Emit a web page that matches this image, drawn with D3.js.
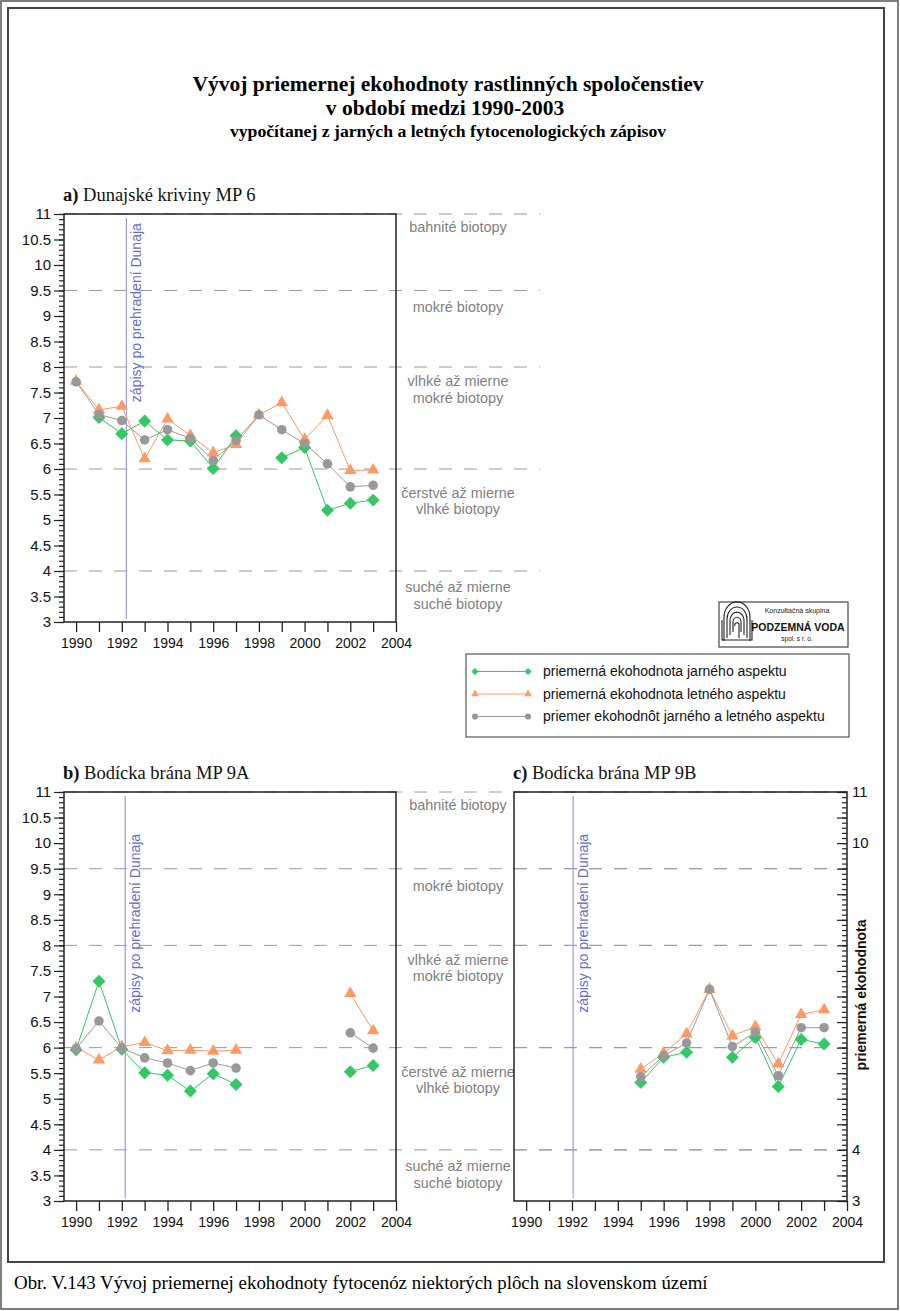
<!DOCTYPE html>
<html><head><meta charset="utf-8">
<script src="https://cdn.jsdelivr.net/npm/d3@7"></script>
<style>body{margin:0;background:#fff}svg{display:block}</style>
</head><body>
<svg id="chart" width="900" height="1311"></svg>
<script>
// ---------------- data ----------------
const years = d3.range(1990, 2004);
const xTickYears = d3.range(1990, 2005);
const titleLines = ["Vývoj priemernej ekohodnoty rastlinných spoločenstiev", "v období medzi 1990-2003"];
const subtitle = "vypočítanej z jarných a letných fytocenologických zápisov";
const caption = "Obr. V.143 Vývoj priemernej ekohodnoty fytocenóz niektorých plôch na slovenskom území";
const seriesNames = ["priemerná ekohodnota jarného aspektu", "priemerná ekohodnota letného aspektu", "priemer ekohodnôt jarného a letného aspektu"];
const zoneBounds = [4, 6, 8, 9.5, 11];
const zoneNames = [["bahnité biotopy"], ["mokré biotopy"], ["vlhké až mierne", "mokré biotopy"], ["čerstvé až mierne", "vlhké biotopy"], ["suché až mierne", "suché biotopy"]];
const zoneLabelAt = [10.75, 9.17, 7.56, 5.37, 3.52];
const damNote = "zápisy po prehradení Dunaja";
const damYear = [1992.2, 1992.15, 1992.05];
const damNoteAt = [7.31, 6.68, 6.68];
const panelTitles = [["a)", " Dunajské kriviny MP 6"], ["b)", " Bodícka brána MP 9A"], ["c)", " Bodícka brána MP 9B"]];
const yAxisTitle = "priemerná ekohodnota";

// panel a) Dunajské kriviny MP 6
const aSpring = [null, 7.01, 6.69, 6.94, 6.57, 6.55, 6.01, 6.65, null, 6.22, 6.42, 5.19, 5.33, 5.39];
const aSummer = [7.72, 7.16, 7.23, 6.20, 6.98, 6.66, 6.32, 6.48, 7.06, 7.30, 6.58, 7.05, 5.97, 5.98];
const aMean   = [7.71, 7.07, 6.95, 6.57, 6.77, 6.60, 6.17, 6.56, 7.06, 6.77, 6.50, 6.10, 5.65, 5.68];
// panel b) Bodícka brána MP 9A
const bSpring = [5.96, 7.30, 5.97, 5.51, 5.46, 5.15, 5.49, 5.28, null, null, null, null, 5.53, 5.65];
const bSummer = [6.00, 5.76, 6.02, 6.10, 5.94, 5.95, 5.93, 5.95, null, null, null, null, 7.06, 6.33];
const bMean   = [5.98, 6.52, 5.99, 5.80, 5.70, 5.55, 5.70, 5.60, null, null, null, null, 6.29, 5.99];
// panel c) Bodícka brána MP 9B
const cSpring = [null, null, null, null, null, 5.32, 5.81, 5.91, null, 5.81, 6.20, 5.24, 6.16, 6.07];
const cSummer = [null, null, null, null, null, 5.58, 5.89, 6.27, 7.14, 6.23, 6.41, 5.68, 6.65, 6.74];
const cMean   = [null, null, null, null, null, 5.43, 5.84, 6.09, 7.14, 6.02, 6.30, 5.45, 6.39, 6.39];

// ---------------- styles ----------------
const COL = {spring: "#33c766", summer: "#ff9a66", mean: "#999999", dam: "#9a9ae0", damText: "#6a6ad0", zone: "#808080", dash: "#9a9a9a", axis: "#222"};
const SANS = "'Liberation Sans', Arial, sans-serif";
const SERIF = "'Liberation Serif', 'Times New Roman', serif";

const svg = d3.select("#chart");

// frames
svg.append("rect").attr("x", 1).attr("y", 1).attr("width", 897).attr("height", 1308)
  .attr("fill", "none").attr("stroke", "#555").attr("stroke-width", 1.5);
svg.append("rect").attr("x", 8).attr("y", 8).attr("width", 876).attr("height", 1254)
  .attr("fill", "none").attr("stroke", "#444").attr("stroke-width", 2);

// titles
svg.append("text").attr("x", 448).attr("y", 91).attr("text-anchor", "middle")
  .style("font-family", SERIF).style("font-weight", "bold").style("font-size", "21.5px").text(titleLines[0]);
svg.append("text").attr("x", 445).attr("y", 115).attr("text-anchor", "middle")
  .style("font-family", SERIF).style("font-weight", "bold").style("font-size", "21.5px").text(titleLines[1]);
svg.append("text").attr("x", 448).attr("y", 137).attr("text-anchor", "middle")
  .style("font-family", SERIF).style("font-weight", "bold").style("font-size", "17.7px").text(subtitle);

svg.append("text").attr("x", 14).attr("y", 1289)
  .style("font-family", SERIF).style("font-size", "18.9px").text(caption);

function markerPath(kind, big) {
  if (kind === "spring") return d3.symbol().type(d3.symbolSquare).size(big ? 84 : 26)();
  if (kind === "summer") return d3.symbol().type(d3.symbolTriangle).size(big ? 66 : 26)();
  return d3.symbol().type(d3.symbolCircle).size(big ? 72 : 30)();
}

function drawPanel(cfg) {
  const x = d3.scaleLinear().domain([1989.47, 2004]).range([cfg.left, cfg.right]);
  const y = d3.scaleLinear().domain([3, 11]).range([cfg.bottom, cfg.top]);
  const g = svg.append("g");

  // dashed zone boundaries
  zoneBounds.forEach(v => {
    g.append("line").attr("x1", cfg.left).attr("x2", cfg.dashEnd).attr("y1", y(v)).attr("y2", y(v))
      .attr("stroke", COL.dash).attr("stroke-width", 1).attr("stroke-dasharray", "13,12");
  });

  // zone labels
  if (cfg.zoneLabels) {
    zoneNames.forEach((lines, i) => {
      const cy = y(zoneLabelAt[i]);
      lines.forEach((t, j) => {
        g.append("text").attr("x", 458).attr("y", cy + (j - (lines.length - 1) / 2) * 16.5)
          .attr("dy", "0.35em").attr("text-anchor", "middle")
          .style("font-family", SANS).style("font-size", "14.4px").attr("fill", COL.zone).text(t);
      });
    });
  }

  // frame
  g.append("rect").attr("x", cfg.left).attr("y", cfg.top).attr("width", cfg.right - cfg.left)
    .attr("height", cfg.bottom - cfg.top).attr("fill", "none").attr("stroke", COL.axis).attr("stroke-width", 1.5);

  // dam line + note
  const dx = x(cfg.dam);
  g.append("line").attr("x1", dx).attr("x2", dx).attr("y1", cfg.top + 4).attr("y2", cfg.bottom - 3)
    .attr("stroke", COL.dam).attr("stroke-width", 1.2);
  g.append("text").attr("transform", `translate(${dx + 15},${y(cfg.noteAt)}) rotate(-90)`)
    .style("font-family", SANS).style("font-size", "14px").attr("fill", COL.damText).text(damNote);

  // x axis
  const xa = g.append("g").attr("transform", `translate(0,${cfg.bottom})`)
    .call(d3.axisBottom(x).tickValues(xTickYears).tickSize(10).tickSizeOuter(0).tickPadding(6)
      .tickFormat(d => d % 2 === 0 ? d : ""));
  xa.select(".domain").remove();
  xa.selectAll("line").attr("stroke", COL.axis).attr("stroke-width", 1.3);
  xa.selectAll("text").style("font-family", SANS).style("font-size", "14px").attr("fill", "#111");

  // y axis
  const minor = d3.range(30, 111).map(d => d / 10);
  const major = d3.range(6, 23).map(d => d / 2);
  if (cfg.side === "left") {
    const ym = g.append("g").attr("transform", `translate(${cfg.left},0)`)
      .call(d3.axisLeft(y).tickValues(minor).tickSize(5).tickSizeOuter(0).tickFormat(""));
    ym.select(".domain").remove();
    const yM = g.append("g").attr("transform", `translate(${cfg.left},0)`)
      .call(d3.axisLeft(y).tickValues(major).tickSize(10).tickSizeOuter(0).tickPadding(3).tickFormat(d3.format("")));
    yM.select(".domain").remove();
    [ym, yM].forEach(s => s.selectAll("line").attr("stroke", COL.axis).attr("stroke-width", 1.2));
    yM.selectAll("text").style("font-family", SANS).style("font-size", "15px").attr("fill", "#111");
  } else {
    const ym = g.append("g").attr("transform", `translate(${cfg.right},0)`)
      .call(d3.axisRight(y).tickValues(minor).tickSize(-5).tickSizeOuter(0).tickFormat(""));
    ym.select(".domain").remove();
    const yM = g.append("g").attr("transform", `translate(${cfg.right},0)`)
      .call(d3.axisRight(y).tickValues(major).tickSize(-10).tickSizeOuter(0).tickFormat(""));
    yM.select(".domain").remove();
    const yL = g.append("g").attr("transform", `translate(${cfg.right},0)`)
      .call(d3.axisRight(y).tickValues([3, 4, 10, 11]).tickSize(0).tickPadding(5).tickFormat(d3.format("")));
    yL.select(".domain").remove();
    [ym, yM].forEach(s => s.selectAll("line").attr("stroke", COL.axis).attr("stroke-width", 1.2));
    yL.selectAll("text").style("font-family", SANS).style("font-size", "15px").attr("fill", "#111");
    g.append("text").attr("transform", `translate(${cfg.right + 19},${y(7.03)}) rotate(-90)`)
      .attr("text-anchor", "middle").style("font-family", SANS).style("font-weight", "bold")
      .style("font-size", "14px").attr("fill", "#111").text(yAxisTitle);
  }

  // panel title
  const t = g.append("text").attr("x", cfg.left - 1).attr("y", cfg.top - 13)
    .style("font-family", SERIF).style("font-size", "18.5px").attr("fill", "#111");
  t.append("tspan").style("font-weight", "bold").text(cfg.title[0]);
  t.append("tspan").text(cfg.title[1]);

  // series
  const series = [["summer", cfg.summer], ["spring", cfg.spring], ["mean", cfg.mean]];
  const line = d3.line().defined(d => d[1] != null).x(d => x(d[0])).y(d => y(d[1]));
  series.forEach(([k, vals]) => {
    const pts = years.map((yr, i) => [yr, vals[i]]);
    g.append("path").attr("d", line(pts)).attr("fill", "none").attr("stroke", COL[k]).attr("stroke-width", 1);
  });
  series.forEach(([k, vals]) => {
    const pts = years.map((yr, i) => [yr, vals[i]]).filter(d => d[1] != null);
    g.selectAll(null).data(pts).enter().append("path")
      .attr("d", markerPath(k, true))
      .attr("transform", d => `translate(${x(d[0])},${y(d[1])})` + (k === "spring" ? " rotate(45)" : ""))
      .attr("fill", COL[k]);
  });
}

drawPanel({left: 64, right: 396, top: 214, bottom: 622, dashEnd: 540, zoneLabels: true, side: "left",
  dam: damYear[0], noteAt: damNoteAt[0], title: panelTitles[0], spring: aSpring, summer: aSummer, mean: aMean});
drawPanel({left: 64, right: 396, top: 792, bottom: 1201, dashEnd: 847, zoneLabels: true, side: "left",
  dam: damYear[1], noteAt: damNoteAt[1], title: panelTitles[1], spring: bSpring, summer: bSummer, mean: bMean});
drawPanel({left: 514, right: 847, top: 792, bottom: 1201, dashEnd: 847, zoneLabels: false, side: "right",
  dam: damYear[2], noteAt: damNoteAt[2], title: panelTitles[2], spring: cSpring, summer: cSummer, mean: cMean});

// ---------------- legend ----------------
const lg = svg.append("g");
lg.append("rect").attr("x", 466).attr("y", 654).attr("width", 383).attr("height", 83)
  .attr("fill", "#fff").attr("stroke", "#555").attr("stroke-width", 1.2);
["spring", "summer", "mean"].forEach((k, i) => {
  const yy = 671.5 + i * 22.5;
  lg.append("line").attr("x1", 475).attr("x2", 528).attr("y1", yy).attr("y2", yy).attr("stroke", COL[k]).attr("stroke-width", 1);
  [475, 528].forEach(xx => lg.append("path").attr("d", markerPath(k, false))
    .attr("transform", `translate(${xx},${yy})` + (k === "spring" ? " rotate(45)" : "")).attr("fill", COL[k]));
  lg.append("text").attr("x", 543).attr("y", yy).attr("dy", "0.35em")
    .style("font-family", SANS).style("font-size", "14px").attr("fill", "#111").text(seriesNames[i]);
});

// ---------------- logo ----------------
const logo = svg.append("g");
logo.append("rect").attr("x", 719).attr("y", 602).attr("width", 129).attr("height", 45)
  .attr("fill", "#fff").attr("stroke", "#444").attr("stroke-width", 1.2);
const ic = logo.append("g").attr("transform", "translate(737,624)").attr("fill", "none").attr("stroke", "#222").attr("stroke-width", 1.1);
[4, 7, 10, 13].forEach(r => {
  ic.append("path").attr("d", `M${-r},${r + 4} L${-r},${-r / 2} A${r},${r * 1.2} 0 0 1 ${r},${-r / 2} L${r},${r + 4}`);
});
ic.append("path").attr("d", "M-2,2 A2,2 0 1 1 2,0 L2,14");
ic.append("path").attr("d", "M-15,-4 L-15,16 L15,16 L15,-4");
logo.append("text").attr("x", 797).attr("y", 613).attr("text-anchor", "middle")
  .style("font-family", SANS).style("font-size", "7px").attr("fill", "#222").text("Konzultačná skupina");
logo.append("text").attr("x", 798).attr("y", 631).attr("text-anchor", "middle")
  .style("font-family", SANS).style("font-weight", "bold").style("font-size", "10.5px").attr("fill", "#111").text("PODZEMNÁ VODA");
logo.append("text").attr("x", 797).attr("y", 641).attr("text-anchor", "middle")
  .style("font-family", SANS).style("font-size", "6.5px").attr("fill", "#222").text("spol. s r. o.");
</script>
</body></html>
